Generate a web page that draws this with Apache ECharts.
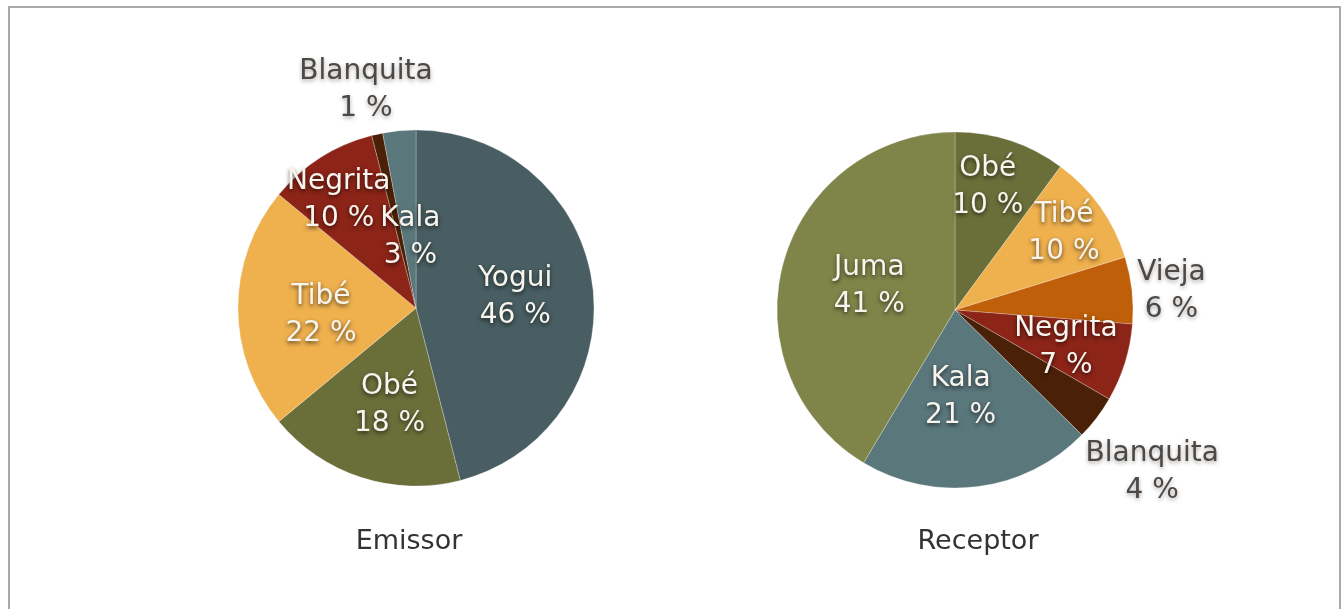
<!DOCTYPE html>
<html>
<head>
<meta charset="utf-8">
<script src="https://cdn.jsdelivr.net/npm/echarts@6/dist/echarts.min.js"></script>
<style>
    html, body { margin: 0; padding: 0; background: #fff; }
    #chartDiv { width: 1343px; height: 609px; }
</style>
</head>
<body>
<div id="chartDiv"></div>
<script>
// data
var emissorNames = ['Yogui', 'Obé', 'Tibé', 'Negrita', 'Blanquita', 'Kala'];
var emissorValues = [46, 18, 22, 10, 1, 3];
var receptorNames = ['Obé', 'Tibé', 'Vieja', 'Negrita', 'Blanquita', 'Kala', 'Juma'];
var receptorValues = [10, 10, 6, 7, 4, 21, 41];

// colours per name
var colors = {
    'Yogui': '#485e62',
    'Obé': '#6a6f3a',
    'Tibé': '#efb04e',
    'Negrita': '#8c2418',
    'Blanquita': '#4a2106',
    'Kala': '#5a777c',
    'Vieja': '#c05f0a',
    'Juma': '#7f8549'
};

// label nudges (dx, dy) and outside labels
var emissorShift = [[8, 1], [2, 10], [-3, 7], [-28, -30], [-30, -128], [3, 21]];
var receptorShift = [[4, -35], [34, -23], [125, -9], [23, 10], [124, 107], [-6, -4], [3, 1]];
var emissorOutside = ['Blanquita'];
var receptorOutside = ['Vieja', 'Blanquita'];

var myChart = echarts.init(document.getElementById('chartDiv'));

var insideLabel = {
    color: '#f7f5ee',
    textShadowColor: 'rgba(0, 0, 0, 0.65)',
    textShadowBlur: 4,
    textShadowOffsetY: 2
};
var outsideLabel = {
    color: '#4d4843',
    textShadowColor: 'rgba(0, 0, 0, 0.35)',
    textShadowBlur: 4,
    textShadowOffsetY: 2
};

function buildData(names, values, outside) {
    return names.map(function (n, i) {
        return {
            name: n,
            value: values[i],
            itemStyle: { color: colors[n] },
            label: outside.indexOf(n) >= 0 ? outsideLabel : insideLabel
        };
    });
}

function pieSeries(center, names, values, shift, outside) {
    return {
        type: 'pie',
        center: center,
        radius: [0, 178],
        startAngle: 90,
        clockwise: true,
        avoidLabelOverlap: false,
        silent: true,
        data: buildData(names, values, outside),
        itemStyle: {
            borderColor: 'rgba(255, 255, 255, 0.25)',
            borderWidth: 1
        },
        label: {
            position: 'inside',
            formatter: '{b}\n{c} %',
            fontFamily: 'DejaVu Sans',
            fontSize: 28,
            lineHeight: 37,
            align: 'center'
        },
        labelLine: { show: false },
        labelLayout: function (params) {
            var s = shift[params.dataIndex];
            return { dx: s[0], dy: s[1] };
        }
    };
}

var option = {
    backgroundColor: '#ffffff',
    animation: false,
    title: [
        {
            text: 'Emissor',
            left: 404,
            top: 523,
            textAlign: 'center',
            textStyle: { fontFamily: 'DejaVu Sans', fontSize: 27, fontWeight: 'normal', color: '#333333' }
        },
        {
            text: 'Receptor',
            left: 973,
            top: 523,
            textAlign: 'center',
            textStyle: { fontFamily: 'DejaVu Sans', fontSize: 27, fontWeight: 'normal', color: '#333333' }
        }
    ],
    graphic: [
        {
            type: 'rect',
            shape: { x: 9, y: 7, width: 1331, height: 640 },
            style: { fill: null, stroke: '#a9a9a9', lineWidth: 2 },
            silent: true
        }
    ],
    series: [
        pieSeries([416, 308], emissorNames, emissorValues, emissorShift, emissorOutside),
        pieSeries([955, 310], receptorNames, receptorValues, receptorShift, receptorOutside)
    ]
};
myChart.setOption(option);
</script>
</body>
</html>
